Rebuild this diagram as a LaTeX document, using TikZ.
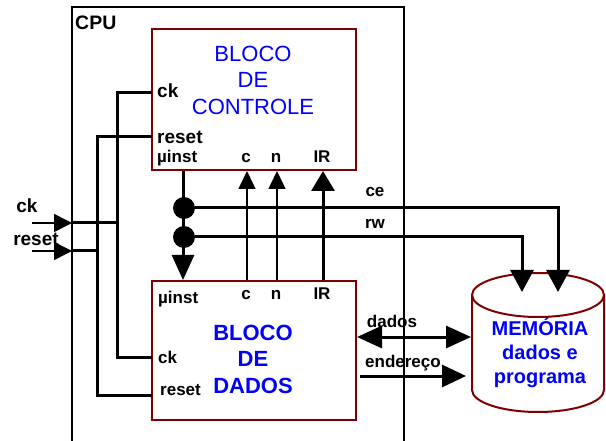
\documentclass[tikz,border=0pt]{standalone}
\usepackage{fontspec}
\setmainfont{Liberation Sans}
\usetikzlibrary{arrows.meta, positioning}
\definecolor{blockred}{RGB}{128,0,0}
\definecolor{textblue}{RGB}{0,0,255}

\begin{document}
\begin{tikzpicture}[
        x=1pt, y=-1pt,
        every node/.style={font=\bfseries\fontsize{17}{20}\selectfont, inner sep=0pt},
        block/.style={rectangle, draw=blockred, line width=2pt, minimum width=204pt, minimum height=140pt},
        memline/.style={draw=blockred, line width=2pt},
        title/.style={text=textblue, align=center, font=\fontsize{22}{26.5}\selectfont},
        bigport/.style={font=\bfseries\fontsize{19}{22}\selectfont},
        frame/.style={line width=1.5pt},
        bus/.style={line width=3pt},
        wire/.style={line width=1.5pt},
        bigtip/.style={-{Triangle[length=24pt, width=22pt]}},
        smalltip/.style={-{Triangle[length=18pt, width=17pt]}},
        intip/.style={-{Triangle[length=18pt, width=18pt]}},
        dot/.style={circle, fill=black, minimum size=22pt}
    ]
    \useasboundingbox (0,0) rectangle (606,441);
%
    % CPU
    \draw[frame] (72,441) -- (72,7) -- (404,7) -- (404,441);
    \node[anchor=base west, font=\bfseries\fontsize{19.5}{23}\selectfont] (cpu) at (75,30) {CPU};
%
    % Blocos
    \node[block, minimum height=141pt] (ctrl) at (254,99.5) {};
    \node[title] (ctrltxt) at (253,80) {BLOCO\\DE\\CONTROLE};
    \node[block, minimum height=139pt] (data) at (254,350.5) {};
    \node[title, font=\bfseries\fontsize{22}{26.5}\selectfont] (datatxt) at (253,359) {BLOCO\\DE\\DADOS};
%
    % Memoria
    \draw[memline] (472,295) -- (472,390) arc[start angle=180, end angle=0, x radius=66, y radius=22] -- (604,295);
    \draw[memline] (538,295) ellipse[x radius=66, y radius=22];
    \node[title, font=\bfseries\fontsize{20}{24}\selectfont] (mem) at (540,353) {MEMÓRIA\\dados e\\programa};
%
    % Portas do bloco de controle
    \node[bigport, anchor=base west] (ctrlck) at (157,98) {ck};
    \node[bigport, anchor=base west] (ctrlreset) at (157,144) {reset};
    \node[anchor=base west] (ctrlui) at (157,163) {µinst};
    \node[anchor=base] (ctrlc) at (246,163) {c};
    \node[anchor=base] (ctrln) at (276,163) {n};
    \node[anchor=base] (ctrlir) at (322,163) {IR};
%
    % Portas do bloco de dados
    \node[anchor=base west] (dataui) at (158,303) {µinst};
    \node[anchor=base] (datac) at (246,300) {c};
    \node[anchor=base] (datan) at (276,300) {n};
    \node[anchor=base] (datair) at (322,300) {IR};
    \node[anchor=base west] (datack) at (158,363) {ck};
    \node[anchor=base west] (datareset) at (160,395) {reset};
%
    % Entradas ck e reset
    \coordinate (ckIn) at (32,223);
    \coordinate (ckPort) at (72,223);
    \coordinate (resetIn) at (32,251);
    \coordinate (resetPort) at (72,251);
    \node[bigport, anchor=base] (cklbl) at (27,213) {ck};
    \node[bigport, anchor=base] (resetlbl) at (36,246) {reset};
    \draw[wire, intip] (ckIn) -- (ckPort);
    \draw[wire, intip] (resetIn) -- (resetPort);
%
    % Barramentos ck e reset
    \coordinate (ckJoin) at (117,223);
    \coordinate (resetJoin) at (97,251);
    \coordinate (ctrlCkPin) at (152,93);
    \coordinate (ctrlResetPin) at (152,137);
    \coordinate (dataCkPin) at (152,357);
    \coordinate (dataResetPin) at (152,395);
    \draw[bus] (ckPort) -- (ckJoin);
    \draw[bus] (resetPort) -- (resetJoin);
    \draw[bus] (ctrlCkPin) -| (ckJoin) |- (dataCkPin);
    \draw[bus] (ctrlResetPin) -| (resetJoin) |- (dataResetPin);
%
    % Microinstrucao, c, n, IR
    \draw[bus, -{Triangle[length=25pt, width=22pt]}] ([xshift=32pt]ctrl.south west) -- ([xshift=32pt]data.north west);
    \draw[wire, smalltip] ([xshift=96pt]data.north west) -- ([xshift=96pt]ctrl.south west);
    \draw[wire, smalltip] ([xshift=126pt]data.north west) -- ([xshift=126pt]ctrl.south west);
    \draw[bus, -{Triangle[length=20pt, width=23pt]}] ([xshift=172pt]data.north west) -- ([xshift=172pt]ctrl.south west);
%
    % ce e rw
    \node[dot] (ceDot) at (184,208) {};
    \node[dot] (rwDot) at (184,237) {};
    \coordinate (ceIn) at (558,292);
    \coordinate (rwIn) at (522,292);
    \draw[bus, -{Triangle[length=22pt, width=23pt]}] (ceDot) -| (ceIn);
    \draw[bus, -{Triangle[length=22pt, width=23pt]}] (rwDot) -| (rwIn);
    \node[anchor=base] (celbl) at (375,197) {ce};
    \node[anchor=base] (rwlbl) at (375,229) {rw};
%
    % dados e endereco
    \coordinate (memData) at (471,337);
    \coordinate (addrOut) at (360,376);
    \coordinate (memAddr) at (466,376);
    \draw[bus, {Triangle[length=25pt, width=22pt]}-{Triangle[length=25pt, width=22pt]}] (data.east |- memData) -- (memData);
    \draw[bus, bigtip] (addrOut) -- (memAddr);
    \node[anchor=base] (dadoslbl) at (392,327) {dados};
    \node[anchor=base] (enderecolbl) at (403,367) {endereço};
%
\end{tikzpicture}
\end{document}
